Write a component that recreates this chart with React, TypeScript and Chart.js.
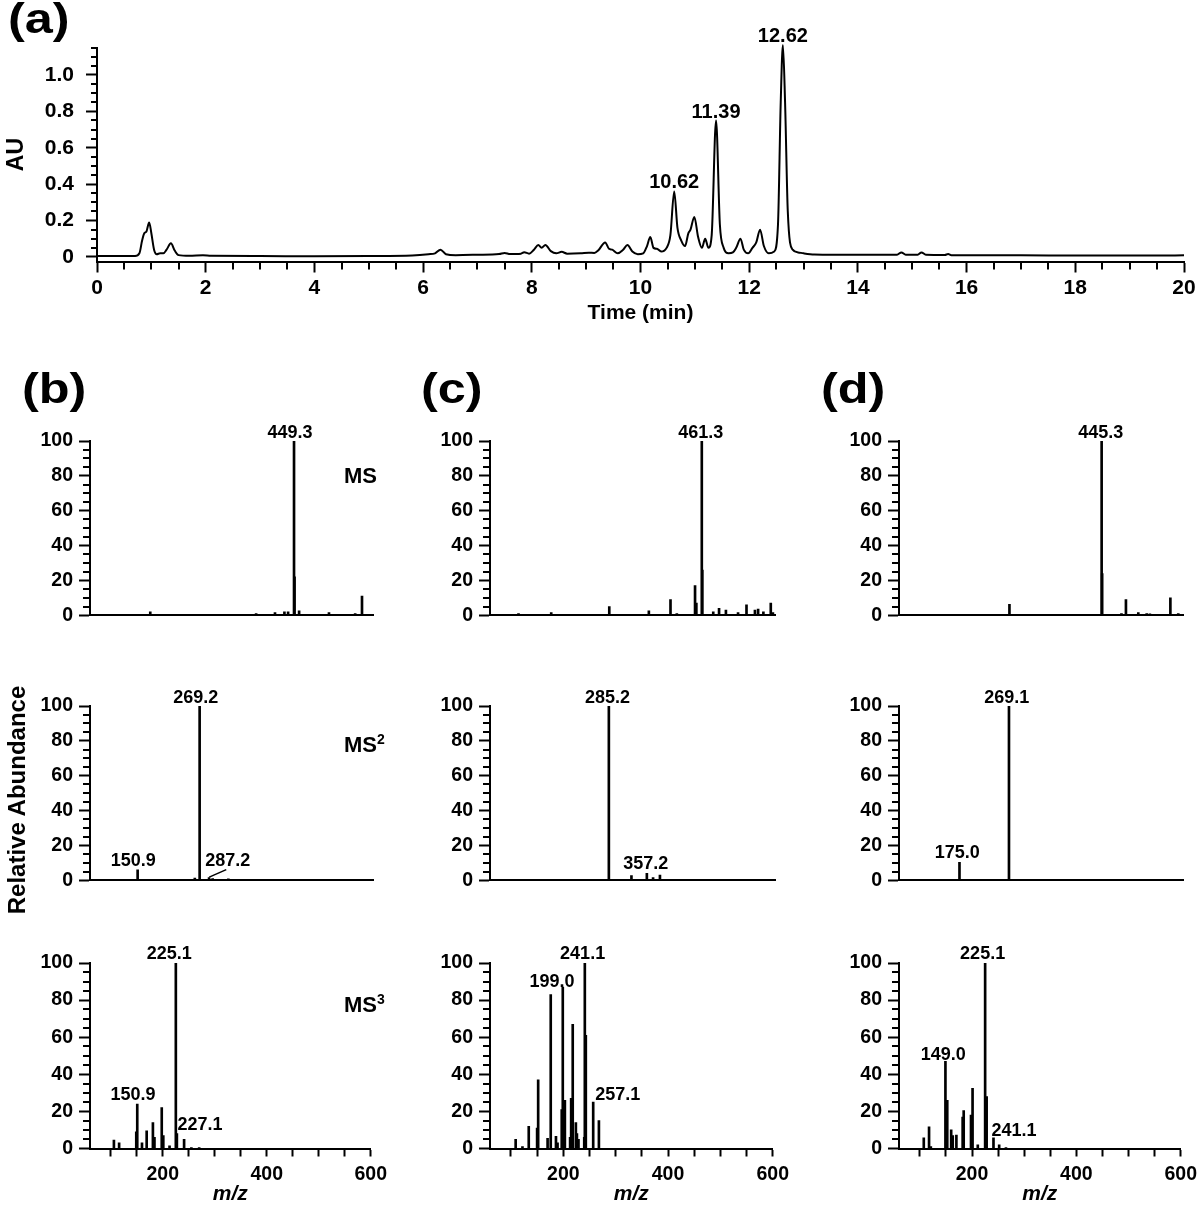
import React, { useEffect, useRef } from 'react';
import { Chart, registerables } from 'chart.js';

Chart.register(...registerables);

const SANS = '"Liberation Sans", Arial, Helvetica, sans-serif';
Chart.defaults.font.family = SANS;
Chart.defaults.color = '#000';

// ---------------- (a) HPLC chromatogram ----------------
const TIME_MIN = [
  0.0, 0.7, 0.78, 0.83, 0.87, 0.91, 0.96, 1.0, 1.05, 1.1,
  1.16, 1.22, 1.28, 1.36, 1.43, 1.5, 1.7, 1.95, 2.1, 3.0,
  4.0, 5.0, 5.8, 6.1, 6.22, 6.32, 6.42, 6.6, 7.0, 7.4,
  7.5, 7.6, 7.8, 7.86, 7.95, 8.04, 8.12, 8.18, 8.25, 8.35,
  8.45, 8.55, 8.65, 8.9, 9.05, 9.15, 9.22, 9.35, 9.42, 9.48,
  9.58, 9.68, 9.76, 9.85, 9.95, 10.05, 10.12, 10.18, 10.24, 10.3,
  10.38, 10.48, 10.55, 10.62, 10.68, 10.75, 10.82, 10.88, 10.92, 10.99,
  11.06, 11.13, 11.19, 11.25, 11.31, 11.39, 11.46, 11.53, 11.62, 11.7,
  11.76, 11.84, 11.9, 11.98, 12.06, 12.13, 12.2, 12.27, 12.36, 12.46,
  12.53, 12.58, 12.62, 12.66, 12.71, 12.8, 12.9, 13.0, 13.2, 14.0,
  14.72, 14.8, 14.88, 15.1, 15.17, 15.25, 15.6, 15.66, 15.72, 17.0,
  18.0, 19.5, 20.0,
];
const ABSORBANCE_AU = [
  0.005, 0.005, 0.02, 0.09, 0.13, 0.14, 0.19, 0.13, 0.04, 0.015,
  0.02, 0.02, 0.04, 0.075, 0.035, 0.01, 0.006, 0.009, 0.006, 0.005,
  0.004, 0.005, 0.008, 0.015, 0.02, 0.04, 0.015, 0.01, 0.012, 0.016,
  0.022, 0.016, 0.018, 0.026, 0.018, 0.04, 0.065, 0.05, 0.066, 0.032,
  0.02, 0.028, 0.018, 0.02, 0.023, 0.022, 0.035, 0.08, 0.045, 0.04,
  0.02, 0.04, 0.065, 0.03, 0.015, 0.02, 0.06, 0.11, 0.05, 0.045,
  0.03, 0.05, 0.12, 0.36, 0.16, 0.09, 0.06, 0.13, 0.15, 0.22,
  0.11, 0.05, 0.1, 0.05, 0.12, 0.75, 0.18, 0.05, 0.02, 0.025,
  0.05, 0.1, 0.04, 0.02, 0.05, 0.08, 0.15, 0.06, 0.02, 0.03,
  0.18, 0.85, 1.165, 0.85, 0.25, 0.04, 0.025, 0.02, 0.014, 0.012,
  0.012, 0.025, 0.012, 0.012, 0.025, 0.012, 0.011, 0.016, 0.01, 0.009,
  0.008, 0.008, 0.009,
];
const A_X_TICKS = [0, 2, 4, 6, 8, 10, 12, 14, 16, 18, 20];
const A_Y_TICKS = [0, 0.2, 0.4, 0.6, 0.8, 1.0];
const A_PEAK_TEXT = ['10.62', '11.39', '12.62'];
const A_PEAK_TIME = [10.62, 11.39, 12.62];
const A_PEAK_TEXT_AU = [0.379, 0.766, 1.183];

// ---------------- MS spectra (m/z, relative abundance) ----------------
const MZ_TICKS = [100, 150, 200, 250, 300, 350, 400, 450, 500, 550, 600];
const MZ_TICK_LABELS = [200, 400, 600];
const RA_TICKS = [0, 20, 40, 60, 80, 100];

// (b)
const B_MS_MZ = [112, 147, 175, 269, 305, 377, 413, 431, 438, 449.3, 450.3, 459, 516, 566, 579, 592];
const B_MS_INT = [0.5, 0.5, 2, 0.5, 0.5, 1, 1.5, 2, 2, 100, 22, 2.5, 1.5, 1, 11, 0.5];
const B_MS2_MZ = [150.9, 171, 260, 269.2, 287.2, 294, 324];
const B_MS2_INT = [6, 0.5, 1.3, 100, 1.5, 1, 0.8];
const B_MS3_MZ = [106, 116, 149, 150.9, 160, 169, 181, 184, 198, 201, 213, 225.1, 227.1, 241, 255, 270];
const B_MS3_INT = [4.5, 3, 9, 24, 3, 9.5, 14, 6, 22, 7, 1.5, 100, 8, 5, 0.5, 0.5];
// (c)
const C_MS_MZ = [114, 176, 286, 361, 402, 414, 448.5, 451, 461.3, 462.3, 483, 494, 507, 530, 546, 562, 568, 578, 592, 596];
const C_MS_INT = [1, 1.5, 5, 2.5, 9, 1, 17, 7, 100, 26, 2, 4, 3, 1.5, 6, 3, 3.5, 2, 7, 1.5];
const C_MS2_MZ = [285.2, 328, 341, 357.2, 369, 382];
const C_MS2_INT = [100, 2.7, 0.5, 4, 1.5, 3];
const C_MS3_MZ = [109, 122, 134, 150, 152, 170, 176, 186, 189, 197, 199.0, 203, 213, 215, 218, 224, 226, 229, 240, 241.1, 243, 257.1, 268];
const C_MS3_INT = [5, 1, 12, 11, 37, 5.5, 83, 6.5, 3, 21, 87, 26, 6, 27, 67, 14, 8, 5, 6, 100, 61, 25, 15];
// (d)
const D_MS_MZ = [113, 176, 270, 445.3, 446.3, 483, 491.5, 515, 531, 537, 576, 591];
const D_MS_INT = [0.5, 0.3, 6.3, 100, 24, 1, 9, 1.5, 1, 0.8, 10, 1];
const D_MS2_MZ = [175.0, 269.1];
const D_MS2_INT = [10.3, 100];
const D_MS3_MZ = [107.5, 117.6, 121, 149.0, 152.5, 160, 163, 170, 182, 184, 198, 201, 211, 225.1, 228, 241.1, 252, 265];
const D_MS3_INT = [5.8, 11.7, 1, 47, 26, 10, 7, 7.2, 17, 20.4, 18, 32.4, 2, 100, 28, 5.8, 2, 0.5];

// peak annotations: text, m/z where text is centred, abundance of text baseline
const B_MS_LABELS = [{ text: '449.3', x: 441.6, y: 102 }];
const B_MS2_LABELS = [
  { text: '150.9', x: 142.6, y: 8 },
  { text: '269.2', x: 262, y: 102 },
  { text: '287.2', x: 322.7, y: 8.4 },
];
const B_MS2_LEADERS = [[287.5, 1.8, 320, 6.1]];
const B_MS3_LABELS = [
  { text: '225.1', x: 212.6, y: 102 },
  { text: '150.9', x: 142.6, y: 26 },
  { text: '227.1', x: 271.5, y: 10.1 },
];
const C_MS_LABELS = [{ text: '461.3', x: 459.5, y: 102 }];
const C_MS2_LABELS = [
  { text: '285.2', x: 282.7, y: 102 },
  { text: '357.2', x: 355.3, y: 6.2 },
];
const C_MS3_LABELS = [
  { text: '199.0', x: 178.4, y: 87.3 },
  { text: '241.1', x: 236.9, y: 102 },
  { text: '257.1', x: 304, y: 26 },
];
const D_MS_LABELS = [{ text: '445.3', x: 443.6, y: 102 }];
const D_MS2_LABELS = [
  { text: '269.1', x: 264.7, y: 102 },
  { text: '175.0', x: 170.6, y: 12.8 },
];
const D_MS3_LABELS = [
  { text: '225.1', x: 220.3, y: 102 },
  { text: '149.0', x: 145, y: 47.8 },
  { text: '241.1', x: 280.5, y: 7 },
];

// ---------------- layout ----------------
const A_BOX = { left: 97, right: 1184, top: 47.7, bottom: 261.5, canvasH: 330 };
const COL_AXIS_X = [90, 490, 899];
const COL_WIDTH = [283, 285, 284];
const ROW_TOP = [441, 706, 963];
const ROW_H = 185.5;
const MS_YAXIS_W = 90;
const MS_PAD_TOP = 30;
const MS_PAD_RIGHT = 20;

function range(start: number, end: number, step: number, skip: number[]) {
  const out: number[] = [];
  const n = Math.round((end - start) / step);
  for (let i = 0; i <= n; i++) {
    const v = +(start + i * step).toFixed(6);
    if (!skip.some((s) => Math.abs(s - v) < 1e-6)) out.push(v);
  }
  return out;
}

function minorTicksPlugin(xVals: number[], xLen: number, yVals: number[], yLen: number) {
  return {
    id: 'minorTicks',
    afterDraw(chart: any) {
      const { ctx } = chart;
      const xs = chart.scales.x;
      const ys = chart.scales.y;
      ctx.save();
      ctx.strokeStyle = '#000';
      ctx.lineWidth = 2;
      ctx.lineCap = 'butt';
      const area = chart.chartArea;
      xVals.forEach((v) => {
        const p = Math.round(xs.getPixelForValue(v));
        ctx.beginPath();
        ctx.moveTo(p, area.bottom);
        ctx.lineTo(p, area.bottom + xLen);
        ctx.stroke();
      });
      yVals.forEach((v) => {
        const p = Math.round(ys.getPixelForValue(v));
        ctx.beginPath();
        ctx.moveTo(area.left, p);
        ctx.lineTo(area.left - yLen, p);
        ctx.stroke();
      });
      ctx.restore();
    },
  };
}

function annotPlugin(labels: any[], font: string, leaders: number[][] = []) {
  return {
    id: 'annot',
    afterDatasetsDraw(chart: any) {
      const { ctx } = chart;
      const xs = chart.scales.x;
      const ys = chart.scales.y;
      ctx.save();
      ctx.fillStyle = '#000';
      ctx.font = font;
      ctx.textAlign = 'center';
      ctx.textBaseline = 'alphabetic';
      labels.forEach((l) => ctx.fillText(l.text, xs.getPixelForValue(l.x), ys.getPixelForValue(l.y)));
      ctx.strokeStyle = '#000';
      ctx.lineWidth = 1.5;
      leaders.forEach((ln) => {
        ctx.beginPath();
        ctx.moveTo(xs.getPixelForValue(ln[0]), ys.getPixelForValue(ln[1]));
        ctx.lineTo(xs.getPixelForValue(ln[2]), ys.getPixelForValue(ln[3]));
        ctx.stroke();
      });
      ctx.restore();
    },
  };
}

function buildChromatogram(): any {
  const W = 1200;
  const H = A_BOX.canvasH;
  return {
    type: 'line',
    data: {
      datasets: [
        {
          data: TIME_MIN.map((t, i) => ({ x: t, y: ABSORBANCE_AU[i] })),
          borderColor: '#000',
          borderWidth: 2,
          pointRadius: 0,
          cubicInterpolationMode: 'monotone',
          fill: false,
          clip: false,
        },
      ],
    },
    options: {
      animation: false,
      responsive: false,
      devicePixelRatio: 1,
      layout: { padding: { left: 0, right: W - A_BOX.right, top: A_BOX.top, bottom: 0 } },
      plugins: { legend: { display: false }, tooltip: { enabled: false } },
      scales: {
        x: {
          type: 'linear',
          min: 0,
          max: 20,
          afterBuildTicks: (s: any) => {
            s.ticks = A_X_TICKS.map((v) => ({ value: v }));
          },
          afterFit: (s: any) => {
            s.height = H - A_BOX.bottom;
          },
          grid: { display: true, drawOnChartArea: false, drawTicks: true, tickLength: 11, tickWidth: 2, tickColor: '#000' },
          border: { display: true, color: '#000', width: 2 },
          ticks: {
            color: '#000',
            padding: 3,
            autoSkip: false,
            maxRotation: 0,
            font: { family: SANS, size: 21, weight: 'bold' },
            callback: (v: any) => String(v),
          },
          title: {
            display: true,
            text: 'Time (min)',
            color: '#000',
            font: { family: SANS, size: 21, weight: 'bold' },
            padding: { top: 0, bottom: 4 },
          },
        },
        y: {
          type: 'linear',
          min: -0.025,
          max: 1.15,
          afterBuildTicks: (s: any) => {
            s.ticks = A_Y_TICKS.map((v) => ({ value: v }));
          },
          afterFit: (s: any) => {
            s.width = A_BOX.left;
          },
          grid: { display: true, drawOnChartArea: false, drawTicks: true, tickLength: 11, tickWidth: 2, tickColor: '#000' },
          border: { display: true, color: '#000', width: 2 },
          ticks: {
            color: '#000',
            padding: 12,
            autoSkip: false,
            font: { family: SANS, size: 21, weight: 'bold' },
            callback: (v: any) => (Number(v) === 0 ? '0' : Number(v).toFixed(1)),
          },
          title: {
            display: true,
            text: 'AU',
            color: '#000',
            font: { family: SANS, size: 23, weight: 'bold' },
            padding: { top: 3, bottom: 0 },
          },
        },
      },
    },
    plugins: [
      minorTicksPlugin(range(0, 20, 0.5, A_X_TICKS), 8, range(0, 1.15, 0.05, A_Y_TICKS), 6),
      annotPlugin(
        A_PEAK_TEXT.map((t, i) => ({ text: t, x: A_PEAK_TIME[i], y: A_PEAK_TEXT_AU[i] })),
        `bold 20px ${SANS}`
      ),
    ],
  };
}

function buildSpectrum(mz: number[], inten: number[], labels: any[], leaders: number[][], showX: boolean, canvasH: number, xAxisH: number): any {
  return {
    type: 'bar',
    data: {
      datasets: [
        {
          data: mz.map((m, i) => ({ x: m, y: inten[i] })),
          backgroundColor: '#000',
          borderWidth: 0,
          barThickness: 2,
          grouped: false,
        },
      ],
    },
    options: {
      animation: false,
      responsive: false,
      devicePixelRatio: 1,
      layout: { padding: { left: 0, right: MS_PAD_RIGHT, top: MS_PAD_TOP, bottom: 0 } },
      plugins: { legend: { display: false }, tooltip: { enabled: false } },
      scales: {
        x: {
          type: 'linear',
          min: 60,
          max: 600,
          offset: false,
          afterBuildTicks: (s: any) => {
            s.ticks = MZ_TICKS.map((v) => ({ value: v }));
          },
          afterFit: (s: any) => {
            s.height = xAxisH;
          },
          grid: { display: showX, offset: false, drawOnChartArea: false, drawTicks: showX, tickLength: 8, tickWidth: 2, tickColor: '#000' },
          border: { display: true, color: '#000', width: 2 },
          ticks: {
            display: showX,
            color: '#000',
            padding: 6,
            autoSkip: false,
            maxRotation: 0,
            font: { family: SANS, size: 19.5, weight: 'bold' },
            callback: (v: any) => (MZ_TICK_LABELS.includes(Number(v)) ? String(v) : ''),
          },
          title: {
            display: showX,
            text: 'm/z',
            color: '#000',
            font: { family: SANS, size: 21, weight: 'bold', style: 'italic' },
            padding: { top: 0, bottom: 1 },
          },
        },
        y: {
          type: 'linear',
          min: 0,
          max: 100,
          afterBuildTicks: (s: any) => {
            s.ticks = RA_TICKS.map((v) => ({ value: v }));
          },
          afterFit: (s: any) => {
            s.width = MS_YAXIS_W;
          },
          grid: { display: true, drawOnChartArea: false, drawTicks: true, tickLength: 11, tickWidth: 2, tickColor: '#000' },
          border: { display: true, color: '#000', width: 2 },
          ticks: {
            color: '#000',
            padding: 6,
            autoSkip: false,
            font: { family: SANS, size: 19.5, weight: 'bold' },
          },
        },
      },
    },
    plugins: [
      minorTicksPlugin([], 0, range(0, 100, 5, RA_TICKS), 7),
      annotPlugin(labels, `bold 18px ${SANS}`, leaders),
    ],
  };
}

const PANELS = [
  { col: 0, row: 0, mz: B_MS_MZ, it: B_MS_INT, labels: B_MS_LABELS, leaders: [] as number[][] },
  { col: 0, row: 1, mz: B_MS2_MZ, it: B_MS2_INT, labels: B_MS2_LABELS, leaders: B_MS2_LEADERS },
  { col: 0, row: 2, mz: B_MS3_MZ, it: B_MS3_INT, labels: B_MS3_LABELS, leaders: [] },
  { col: 1, row: 0, mz: C_MS_MZ, it: C_MS_INT, labels: C_MS_LABELS, leaders: [] },
  { col: 1, row: 1, mz: C_MS2_MZ, it: C_MS2_INT, labels: C_MS2_LABELS, leaders: [] },
  { col: 1, row: 2, mz: C_MS3_MZ, it: C_MS3_INT, labels: C_MS3_LABELS, leaders: [] },
  { col: 2, row: 0, mz: D_MS_MZ, it: D_MS_INT, labels: D_MS_LABELS, leaders: [] },
  { col: 2, row: 1, mz: D_MS2_MZ, it: D_MS2_INT, labels: D_MS2_LABELS, leaders: [] },
  { col: 2, row: 2, mz: D_MS3_MZ, it: D_MS3_INT, labels: D_MS3_LABELS, leaders: [] },
];

function ChartBox({ left, top, width, height, build }: any) {
  const ref = useRef<HTMLCanvasElement | null>(null);
  useEffect(() => {
    if (!ref.current) return;
    const chart = new Chart(ref.current, build());
    return () => chart.destroy();
  }, []);
  return (
    <canvas
      ref={ref}
      width={width}
      height={height}
      style={{ position: 'absolute', left, top, width, height, display: 'block' }}
    />
  );
}

const letterStyle = (left: number, top: number): React.CSSProperties => ({
  position: 'absolute',
  left,
  top,
  fontFamily: SANS,
  fontWeight: 'bold',
  fontSize: 42,
  lineHeight: '42px',
  transform: 'scaleX(1.2)',
  transformOrigin: 'left top',
  whiteSpace: 'nowrap',
  color: '#000',
});

const msStyle = (top: number): React.CSSProperties => ({
  position: 'absolute',
  left: 344,
  top,
  fontFamily: SANS,
  fontWeight: 'bold',
  fontSize: 22,
  lineHeight: '22px',
  whiteSpace: 'nowrap',
  color: '#000',
});

const supStyle: React.CSSProperties = { fontSize: 14, verticalAlign: 8, lineHeight: '0' };

export default function App() {
  return (
    <div
      style={{
        position: 'absolute',
        left: 0,
        top: 0,
        width: 1200,
        height: 1208,
        background: '#fff',
        overflow: 'hidden',
      }}
    >
      <ChartBox left={0} top={0} width={1200} height={A_BOX.canvasH} build={buildChromatogram} />
      {PANELS.map((p, i) => {
        const showX = p.row === 2;
        const plotTop = ROW_TOP[p.row];
        const canvasTop = Math.floor(plotTop - MS_PAD_TOP);
        const padTopAdj = plotTop - canvasTop;
        const canvasH = showX ? 1208 - canvasTop : Math.ceil(padTopAdj + ROW_H + 6);
        const xAxisH = canvasH - padTopAdj - ROW_H;
        const left = COL_AXIS_X[p.col] - MS_YAXIS_W;
        const width = MS_YAXIS_W + COL_WIDTH[p.col] + MS_PAD_RIGHT;
        return (
          <ChartBox
            key={i}
            left={left}
            top={canvasTop}
            width={width}
            height={canvasH}
            build={() => buildSpectrum(p.mz, p.it, p.labels, p.leaders, showX, canvasH, xAxisH)}
          />
        );
      })}
      <div style={letterStyle(8, -2)}>(a)</div>
      <div style={letterStyle(22, 368)}>(b)</div>
      <div style={letterStyle(421, 368)}>(c)</div>
      <div style={letterStyle(821, 368)}>(d)</div>
      <div style={msStyle(465)}>MS</div>
      <div style={msStyle(734)}>
        MS<span style={supStyle}>2</span>
      </div>
      <div style={msStyle(994)}>
        MS<span style={supStyle}>3</span>
      </div>
      <div
        style={{
          position: 'absolute',
          left: 16.5 - 150,
          top: 786,
          width: 300,
          height: 28,
          lineHeight: '28px',
          textAlign: 'center',
          fontFamily: SANS,
          fontWeight: 'bold',
          fontSize: 24,
          color: '#000',
          transform: 'rotate(-90deg)',
          transformOrigin: 'center center',
          whiteSpace: 'nowrap',
        }}
      >
        Relative Abundance
      </div>
    </div>
  );
}
